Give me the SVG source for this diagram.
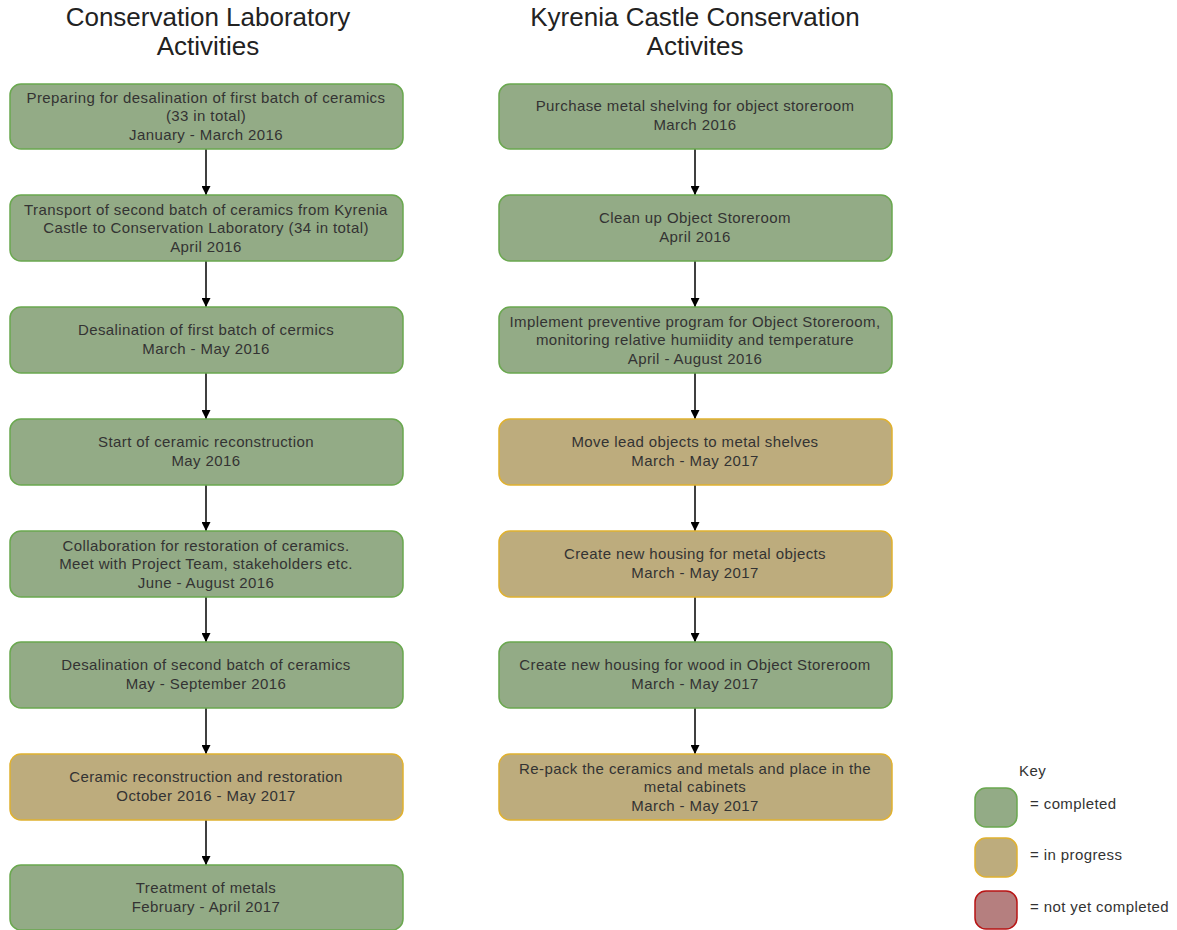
<svg xmlns="http://www.w3.org/2000/svg" width="1177" height="930" viewBox="0 0 1177 930">
<style>
.t{font-family:"Liberation Sans",Arial,sans-serif;font-size:15px;letter-spacing:0.4px;fill:#333;text-anchor:middle}
.h{font-family:"Liberation Sans",Arial,sans-serif;font-size:26px;fill:#222;text-anchor:middle}
.k{font-family:"Liberation Sans",Arial,sans-serif;font-size:15px;letter-spacing:0.4px;fill:#333}
.g{fill:#93AB86;stroke:#6AA84F;stroke-width:1.5}
.y{fill:#BDAC7D;stroke:#E0B12F;stroke-width:1.5}
.r{fill:#B57F7F;stroke:#B81414;stroke-width:1.5}
.c{stroke:#000;stroke-width:1.5;fill:none;marker-end:url(#a)}
</style>
<defs>
<marker id="a" viewBox="0 0 10 10" refX="10" refY="5" markerWidth="9" markerHeight="9" markerUnits="userSpaceOnUse" orient="auto"><path d="M0,0 L10,5 L0,10 Z" fill="#000"/></marker>
</defs>
<text class="h" x="208" y="26">Conservation Laboratory</text>
<text class="h" x="208" y="55">Activities</text>
<text class="h" x="695" y="26">Kyrenia Castle Conservation</text>
<text class="h" x="695" y="55">Activites</text>
<g id="connectors">
<path class="c" d="M206,149 V195"/>
<path class="c" d="M206,261 V307"/>
<path class="c" d="M206,373 V419"/>
<path class="c" d="M206,485 V531"/>
<path class="c" d="M206,597 V642"/>
<path class="c" d="M206,708 V754"/>
<path class="c" d="M206,820 V865"/>
<path class="c" d="M695,149 V195"/>
<path class="c" d="M695,261 V307"/>
<path class="c" d="M695,373 V419"/>
<path class="c" d="M695,485 V531"/>
<path class="c" d="M695,597 V642"/>
<path class="c" d="M695,708 V754"/>
</g>
<g id="l1"><rect class="g" x="10" y="84" width="393" height="65" rx="11"/><text class="t" x="206" y="103">Preparing for desalination of first batch of ceramics</text><text class="t" x="206" y="121">(33 in total)</text><text class="t" x="206" y="140">January - March 2016</text></g>
<g id="l2"><rect class="g" x="10" y="195" width="393" height="66" rx="11"/><text class="t" x="206" y="215">Transport of second batch of ceramics from Kyrenia</text><text class="t" x="206" y="233">Castle to Conservation Laboratory (34 in total)</text><text class="t" x="206" y="252">April 2016</text></g>
<g id="l3"><rect class="g" x="10" y="307" width="393" height="66" rx="11"/><text class="t" x="206" y="335">Desalination of first batch of cermics</text><text class="t" x="206" y="354">March - May 2016</text></g>
<g id="l4"><rect class="g" x="10" y="419" width="393" height="66" rx="11"/><text class="t" x="206" y="447">Start of ceramic reconstruction</text><text class="t" x="206" y="466">May 2016</text></g>
<g id="l5"><rect class="g" x="10" y="531" width="393" height="66" rx="11"/><text class="t" x="206" y="551">Collaboration for restoration of ceramics.</text><text class="t" x="206" y="569">Meet with Project Team, stakeholders etc.</text><text class="t" x="206" y="588">June - August 2016</text></g>
<g id="l6"><rect class="g" x="10" y="642" width="393" height="66" rx="11"/><text class="t" x="206" y="670">Desalination of second batch of ceramics</text><text class="t" x="206" y="689">May - September 2016</text></g>
<g id="l7"><rect class="y" x="10" y="754" width="393" height="66" rx="11"/><text class="t" x="206" y="782">Ceramic reconstruction and restoration</text><text class="t" x="206" y="801">October 2016 - May 2017</text></g>
<g id="l8"><rect class="g" x="10" y="865" width="393" height="65" rx="11"/><text class="t" x="206" y="893">Treatment of metals</text><text class="t" x="206" y="912">February - April 2017</text></g>
<g id="r1"><rect class="g" x="499" y="84" width="393" height="65" rx="11"/><text class="t" x="695" y="111">Purchase metal shelving for object storeroom</text><text class="t" x="695" y="130">March 2016</text></g>
<g id="r2"><rect class="g" x="499" y="195" width="393" height="66" rx="11"/><text class="t" x="695" y="223">Clean up Object Storeroom</text><text class="t" x="695" y="242">April 2016</text></g>
<g id="r3"><rect class="g" x="499" y="307" width="393" height="66" rx="11"/><text class="t" x="695" y="327">Implement preventive program for Object Storeroom,</text><text class="t" x="695" y="345">monitoring relative humiidity and temperature</text><text class="t" x="695" y="364">April - August 2016</text></g>
<g id="r4"><rect class="y" x="499" y="419" width="393" height="66" rx="11"/><text class="t" x="695" y="447">Move lead objects to metal shelves</text><text class="t" x="695" y="466">March - May 2017</text></g>
<g id="r5"><rect class="y" x="499" y="531" width="393" height="66" rx="11"/><text class="t" x="695" y="559">Create new housing for metal objects</text><text class="t" x="695" y="578">March - May 2017</text></g>
<g id="r6"><rect class="g" x="499" y="642" width="393" height="66" rx="11"/><text class="t" x="695" y="670">Create new housing for wood in Object Storeroom</text><text class="t" x="695" y="689">March - May 2017</text></g>
<g id="r7"><rect class="y" x="499" y="754" width="393" height="66" rx="11"/><text class="t" x="695" y="774">Re-pack the ceramics and metals and place in the</text><text class="t" x="695" y="792">metal cabinets</text><text class="t" x="695" y="811">March - May 2017</text></g>
<g id="key">
<text class="k" x="1019" y="776">Key</text>
<rect class="g" x="975" y="788" width="42" height="39" rx="11"/><text class="k" x="1030" y="809">= completed</text>
<rect class="y" x="975" y="838" width="42" height="39" rx="11"/><text class="k" x="1030" y="860">= in progress</text>
<rect class="r" x="975" y="891" width="42" height="38" rx="11"/><text class="k" x="1030" y="912">= not yet completed</text>
</g>
</svg>
